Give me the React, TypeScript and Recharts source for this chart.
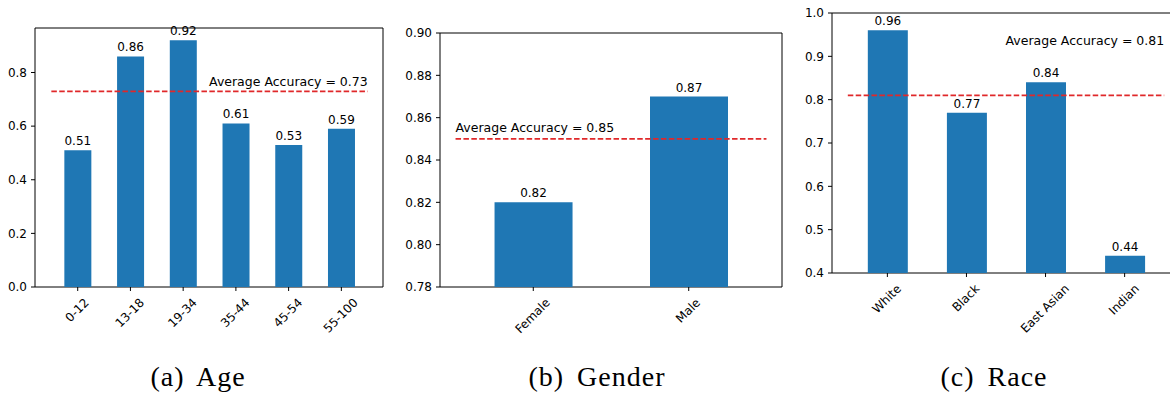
import React from "react";
import {
  BarChart,
  Bar,
  XAxis,
  YAxis,
  ReferenceLine,
  ReferenceDot,
  ReferenceArea,
  LabelList,
} from "recharts";

const ageGroups = ["0-12", "13-18", "19-34", "35-44", "45-54", "55-100"];
const ageAccuracy = [0.51, 0.86, 0.92, 0.61, 0.53, 0.59];
const ageAverage = 0.73;
const ageTicks = [0, 0.2, 0.4, 0.6, 0.8];

const genderGroups = ["Female", "Male"];
const genderAccuracy = [0.82, 0.87];
const genderAverage = 0.85;
const genderTicks = [0.78, 0.8, 0.82, 0.84, 0.86, 0.88, 0.9];

const raceGroups = ["White", "Black", "East Asian", "Indian"];
const raceAccuracy = [0.96, 0.77, 0.84, 0.44];
const raceAverage = 0.81;
const raceTicks = [0.4, 0.5, 0.6, 0.7, 0.8, 0.9, 1.0];

const captions = ["(a) Age", "(b) Gender", "(c) Race"];

const FONT = "'DejaVu Sans', sans-serif";
const BLUE = "#1f77b4";
const RED = "#e0282a";
const CHART_H = 360;

let ctx: CanvasRenderingContext2D | null = null;
function textWidth(s: string, size: number) {
  if (!ctx) ctx = document.createElement("canvas").getContext("2d");
  if (!ctx) return s.length * size * 0.6;
  ctx.font = `${size}px "DejaVu Sans"`;
  return ctx.measureText(s).width;
}

// matplotlib style 45deg label, bbox centred under the tick
function RotatedTick(props: any) {
  const { x, y, payload, labels } = props;
  const label = labels[Math.round(payload.value)] ?? "";
  const w = textWidth(label, 12);
  const bx = x + 0.354 * w + 2.2;
  const by = y + 6.4;
  return (
    <text
      x={bx}
      y={by}
      textAnchor="end"
      transform={`rotate(-45 ${bx} ${by})`}
      fontSize={12}
      fontFamily={FONT}
      fill="#000"
    >
      {label}
    </text>
  );
}

type PanelProps = {
  left: number;
  width: number;
  top: number;
  bottom: number;
  yAxisWidth: number;
  right: number;
  xDomain: [number, number];
  yDomain: [number, number];
  yTicks: number[];
  yDigits: number;
  barSize: number;
  groups: string[];
  values: number[];
  average: number;
  textAt: { x: number; y: number; anchor: "start" | "end" };
};

function Panel(p: PanelProps) {
  const data = p.groups.map((g, i) => ({ x: i, name: g, acc: p.values[i] }));
  const n = p.groups.length;
  const xAxisHeight = 40;
  return (
    <div style={{ position: "absolute", left: p.left, top: 0 }}>
      <BarChart
        width={p.width}
        height={CHART_H}
        data={data}
        margin={{ top: p.top, right: p.right, bottom: CHART_H - p.bottom - xAxisHeight, left: 0 }}
      >
        <XAxis
          type="number"
          dataKey="x"
          domain={p.xDomain}
          ticks={p.groups.map((_, i) => i)}
          allowDataOverflow
          interval={0}
          height={xAxisHeight}
          axisLine={false}
          tickSize={4}
          tickMargin={6}
          tickLine={{ stroke: "#000" }}
          tick={<RotatedTick labels={p.groups} />}
        />
        <YAxis
          type="number"
          domain={p.yDomain}
          ticks={p.yTicks}
          allowDataOverflow
          interval={0}
          width={p.yAxisWidth}
          axisLine={false}
          tickSize={4}
          tickMargin={4}
          tickLine={{ stroke: "#000" }}
          tickFormatter={(v: number) => v.toFixed(p.yDigits)}
          tick={{ fontSize: 12, fill: "#000", fontFamily: FONT }}
        />
        <Bar dataKey="acc" fill={BLUE} barSize={p.barSize} isAnimationActive={false}>
          <LabelList
            dataKey="acc"
            position="top"
            offset={5}
            formatter={(v: any) => Number(v).toFixed(2)}
            fontSize={12}
            fill="#000"
            fontFamily={FONT}
          />
        </Bar>
        <ReferenceLine
          segment={[
            { x: -0.5, y: p.average },
            { x: n - 0.5, y: p.average },
          ]}
          stroke={RED}
          strokeWidth={1.8}
          strokeDasharray="5.5 2.4"
          ifOverflow="visible"
        />
        <ReferenceDot
          x={p.textAt.x}
          y={p.textAt.y}
          r={0}
          ifOverflow="visible"
          shape={(s: any) => (
            <text
              x={s.cx}
              y={s.cy}
              textAnchor={p.textAt.anchor}
              fontSize={12.5}
              fontFamily={FONT}
              fill="#000"
            >
              {`Average Accuracy = ${p.average.toFixed(2)}`}
            </text>
          )}
        />
        <ReferenceArea
          x1={p.xDomain[0]}
          x2={p.xDomain[1]}
          y1={p.yDomain[0]}
          y2={p.yDomain[1]}
          fill="none"
          stroke="#000"
          strokeWidth={1}
          ifOverflow="visible"
        />
      </BarChart>
    </div>
  );
}

export default function App() {
  return (
    <div
      style={{
        position: "absolute",
        left: 0,
        top: 0,
        width: 1170,
        height: 396,
        overflow: "hidden",
        background: "#fff",
      }}
    >
      <Panel
        left={0}
        width={390}
        top={28}
        bottom={287}
        right={7}
        yAxisWidth={35}
        xDomain={[-0.81, 5.79]}
        yDomain={[0, 0.966]}
        yTicks={ageTicks}
        yDigits={1}
        barSize={27}
        groups={ageGroups}
        values={ageAccuracy}
        average={ageAverage}
        textAt={{ x: 5.5, y: 0.748, anchor: "end" }}
      />
      <Panel
        left={390}
        width={400}
        top={33}
        bottom={287}
        right={8}
        yAxisWidth={50}
        xDomain={[-0.6, 1.6]}
        yDomain={[0.78, 0.9]}
        yTicks={genderTicks}
        yDigits={2}
        barSize={78}
        groups={genderGroups}
        values={genderAccuracy}
        average={genderAverage}
        textAt={{ x: -0.5, y: 0.853, anchor: "start" }}
      />
      <Panel
        left={780}
        width={401}
        top={13}
        bottom={273}
        right={1}
        yAxisWidth={52}
        xDomain={[-0.7, 3.7]}
        yDomain={[0.4, 1.0]}
        yTicks={raceTicks}
        yDigits={1}
        barSize={40}
        groups={raceGroups}
        values={raceAccuracy}
        average={raceAverage}
        textAt={{ x: 3.5, y: 0.927, anchor: "end" }}
      />
      <svg
        width={1170}
        height={396}
        style={{ position: "absolute", left: 0, top: 0, pointerEvents: "none" }}
      >
        {captions.map((c, i) => (
          <text
            key={c}
            x={[198, 597, 994][i]}
            y={386}
            textAnchor="middle"
            fontSize={28}
            fontFamily="'Liberation Serif', serif"
            letterSpacing={1}
            wordSpacing={5}
            fill="#000"
          >
            {c}
          </text>
        ))}
      </svg>
    </div>
  );
}
